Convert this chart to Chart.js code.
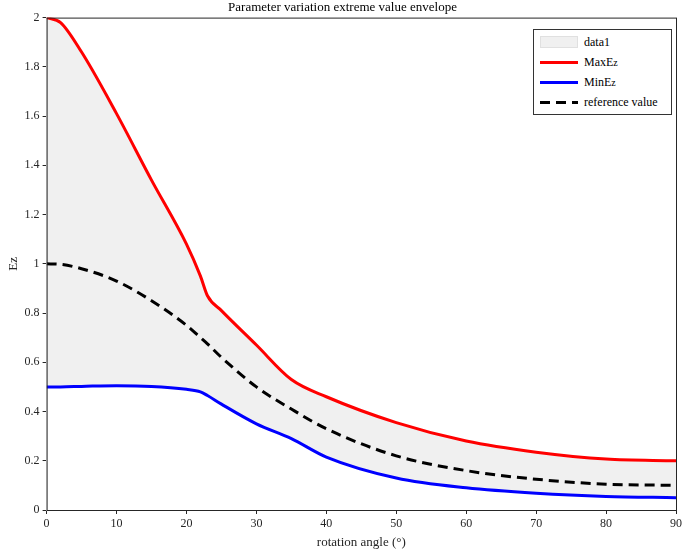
<!DOCTYPE html>
<html><head>
<script src="https://cdn.jsdelivr.net/npm/chart.js@4/dist/chart.umd.min.js"></script>
<style>
body{margin:0;background:#fff;font-family:"Liberation Serif",serif;}
#wrap{position:relative;width:685px;height:552px;}
#legend{position:absolute;left:533px;top:29px;width:137px;border:1px solid #333;background:#fff;font-size:12px;padding:2px 0;}
.row{display:flex;align-items:center;height:20px;}
.sw{width:38px;height:12px;margin:0 6px 0 6px;box-sizing:border-box;}
</style>
</head><body>
<div id="wrap"><canvas id="c" width="685" height="552"></canvas>
<div id="legend">
<div class="row"><div class="sw" style="background:#f0f0f0;border:1px solid #e0e0e0"></div>data1</div>
<div class="row"><div class="sw" style="height:3px;background:#ff0000"></div>MaxE<sub>z</sub></div>
<div class="row"><div class="sw" style="height:3px;background:#0000ff"></div>MinE<sub>z</sub></div>
<div class="row"><div class="sw" style="height:0;background:linear-gradient(90deg,#000 0 10px,transparent 10px 16px,#000 16px 26px,transparent 26px 32px,#000 32px);height:3px"></div>reference value</div>
</div></div>
<script>
const angles = [0, 2, 5, 10, 15, 20, 22, 23, 25, 30, 35, 40, 50, 60, 70, 80, 90];
const maxEz = [2.0, 1.98, 1.86, 1.61, 1.34, 1.08, 0.95, 0.87, 0.81, 0.67, 0.53, 0.46, 0.355, 0.28, 0.235, 0.207, 0.2];
const minEz = [0.5, 0.5, 0.502, 0.505, 0.502, 0.49, 0.48, 0.465, 0.43, 0.35, 0.29, 0.215, 0.13, 0.09, 0.068, 0.055, 0.05];
const refVal = [1.0, 0.998, 0.98, 0.93, 0.85, 0.75, 0.70, 0.675, 0.62, 0.50, 0.41, 0.33, 0.22, 0.16, 0.125, 0.105, 0.1];
const yTicks = [0, 0.2, 0.4, 0.6, 0.8, 1, 1.2, 1.4, 1.6, 1.8, 2];
const pts = a => angles.map((x, i) => ({x: x, y: a[i]}));
const frame = {id: 'frame', afterDraw(ch) {
  const a = ch.chartArea, c = ch.ctx;
  c.save(); c.strokeStyle = '#262626'; c.lineWidth = 1;
  c.strokeRect(a.left + 0.5, a.top + 0.5, a.right - a.left, a.bottom - a.top); c.restore();
}};
new Chart(document.getElementById('c'), {
  type: 'line',
  data: {datasets: [
    {label: 'MaxEz', data: pts(maxEz), borderColor: '#ff0000', borderWidth: 3, pointRadius: 0, fill: false, cubicInterpolationMode: 'monotone'},
    {label: 'reference value', data: pts(refVal), borderColor: '#000', borderWidth: 3, borderDash: [10, 6], pointRadius: 0, fill: false, cubicInterpolationMode: 'monotone'},
    {label: 'MinEz', data: pts(minEz), borderColor: '#0000ff', borderWidth: 3, pointRadius: 0, fill: false, cubicInterpolationMode: 'monotone'},
    {label: 'data1', data: pts(maxEz), borderWidth: 0, pointRadius: 0, backgroundColor: '#f0f0f0', fill: 2, cubicInterpolationMode: 'monotone'}
  ]},
  options: {
    responsive: false, animation: false,
    layout: {padding: {left: 6, right: 6, bottom: 2}},
    plugins: {
      legend: {display: false}, tooltip: {enabled: false},
      title: {display: true, text: 'Parameter variation extreme value envelope', color: '#000', font: {family: 'Liberation Serif', size: 13, weight: 'normal'}, padding: {top: 0, bottom: 2}}
    },
    scales: {
      x: {type: 'linear', min: 0, max: 90,
        ticks: {stepSize: 10, color: '#262626', font: {family: 'Liberation Serif', size: 12}},
        grid: {drawOnChartArea: false, tickLength: 4, color: '#262626'},
        title: {display: true, text: 'rotation angle (°)', color: '#262626', font: {family: 'Liberation Serif', size: 13}, padding: 0}},
      y: {min: 0, max: 2,
        afterBuildTicks: s => { s.ticks = yTicks.map(v => ({value: v})); },
        ticks: {color: '#262626', font: {family: 'Liberation Serif', size: 12}, callback: v => String(Math.round(v * 10) / 10)},
        grid: {drawOnChartArea: false, tickLength: 4, color: '#262626'},
        title: {display: true, text: 'Ez', color: '#262626', font: {family: 'Liberation Serif', size: 13}, padding: 0}}
    }
  },
  plugins: [frame]
});
</script>
</body></html>
